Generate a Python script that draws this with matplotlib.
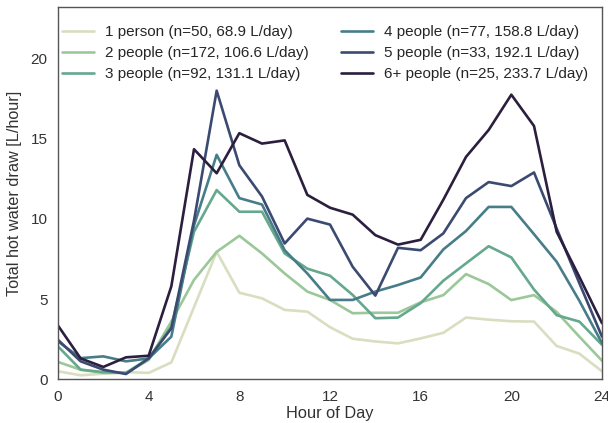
import numpy as np
import matplotlib
matplotlib.use("Agg")
import matplotlib.pyplot as plt
import seaborn as sns

hours = list(range(25))

labels = [
    "1 person (n=50, 68.9 L/day)",
    "2 people (n=172, 106.6 L/day)",
    "3 people (n=92, 131.1 L/day)",
    "4 people (n=77, 158.8 L/day)",
    "5 people (n=33, 192.1 L/day)",
    "6+ people (n=25, 233.7 L/day)",
]

p1 = [0.5, 0.25, 0.35, 0.45, 0.4, 1.05, 4.5, 7.95, 5.4, 5.05, 4.33, 4.22, 3.25,
      2.53, 2.36, 2.24, 2.55, 2.9, 3.85, 3.72, 3.62, 3.6, 2.08, 1.6, 0.5]
p2 = [1.08, 0.6, 0.4, 0.4, 1.2, 3.6, 6.2, 7.95, 8.95, 7.85, 6.6, 5.47, 4.95,
      4.12, 4.15, 4.15, 4.8, 5.25, 6.56, 5.94, 4.94, 5.25, 4.2, 2.66, 1.16]
p3 = [2.05, 0.6, 0.45, 0.4, 1.3, 3.3, 9.2, 11.8, 10.45, 10.45, 7.85, 6.9, 6.46,
      5.26, 3.81, 3.85, 4.75, 6.15, 7.23, 8.3, 7.6, 5.6, 4.0, 3.6, 2.15]
p4 = [2.36, 1.32, 1.43, 1.12, 1.3, 2.66, 9.6, 14.0, 11.3, 10.9, 8.05, 6.6, 4.95,
      4.95, 5.47, 5.88, 6.35, 8.1, 9.25, 10.75, 10.75, 9.05, 7.33, 4.9, 2.26]
p5 = [2.46, 1.12, 0.6, 0.33, 1.3, 3.18, 9.9, 18.0, 13.35, 11.4, 8.47, 10.02, 9.65,
      7.02, 5.22, 8.2, 8.05, 9.1, 11.3, 12.3, 12.05, 12.9, 9.4, 6.0, 2.66]
p6 = [3.35, 1.3, 0.77, 1.37, 1.47, 5.8, 14.35, 12.85, 15.35, 14.7, 14.9, 11.5, 10.7,
      10.27, 8.99, 8.4, 8.7, 11.2, 13.87, 15.55, 17.75, 15.8, 9.2, 6.39, 3.5]

series = [p1, p2, p3, p4, p5, p6]

sns.set_style("white")
plt.rcParams['font.family'] = ['Liberation Sans', 'DejaVu Sans']
plt.rcParams['axes.edgecolor'] = '#555555'

colors = sns.cubehelix_palette(6, start=0.5, rot=-0.75)

fig = plt.figure(figsize=(6.08, 4.23), dpi=100)
ax = fig.add_axes([58/608, 1 - 379.3/423, (602-58)/608, (379.3-7.3)/423])

for s, lab, c in zip(series, labels, colors):
    ax.plot(hours, s, color=c, lw=1.9, label=lab)

ax.set_xlim(0, 24)
ax.set_ylim(0, 23.2)
ax.set_xticks([0, 4, 8, 12, 16, 20, 24])
ax.set_yticks([0, 5, 10, 15, 20])
ax.tick_params(labelsize=11, colors='#333333', pad=4)
ax.set_xlabel("Hour of Day", fontsize=11.8, color='#333333', labelpad=2)
ax.set_ylabel("Total hot water draw [L/hour]", fontsize=11.7, color='#333333', labelpad=6)
for sp in ax.spines.values():
    sp.set_linewidth(1.0)

ax.legend(loc='upper left', ncol=2, frameon=False, fontsize=11,
          handlelength=2.1, handletextpad=0.72, columnspacing=2.1,
          labelspacing=0.47, borderaxespad=0.0, borderpad=0.0,
          bbox_to_anchor=(4/544, (379.3-25)/372))

fig.savefig("out.png", dpi=100)
